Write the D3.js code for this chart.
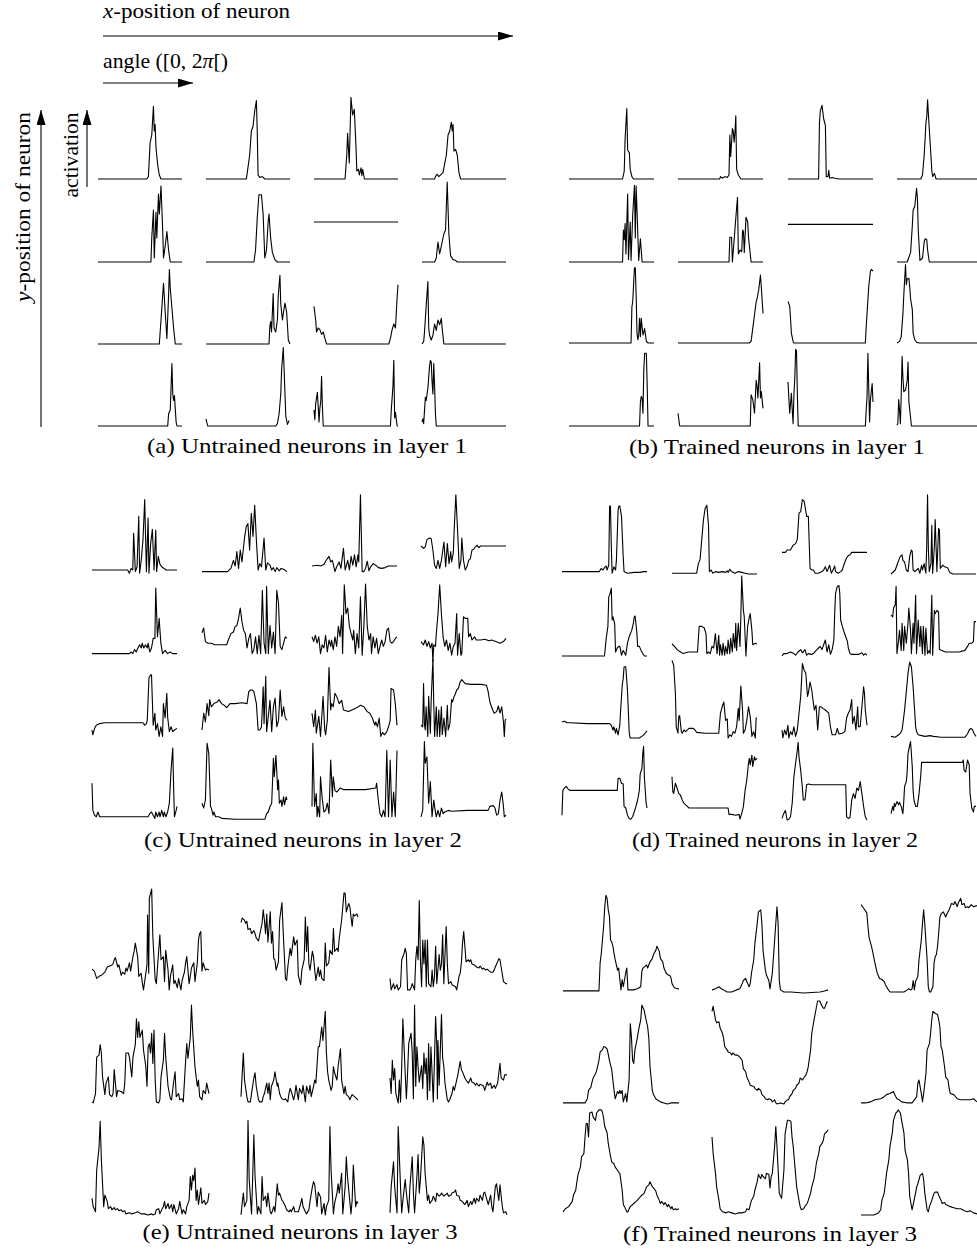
<!DOCTYPE html>
<html>
<head>
<meta charset="utf-8">
<script src="https://cdn.jsdelivr.net/npm/d3@7"></script>
<style>
body { margin: 0; background: #fff; }
svg { display: block; }
text { font-family: "Liberation Serif", "Times New Roman", serif; fill: #000; }
</style>
</head>
<body>
<svg id="fig" width="977" height="1255"></svg>
<script>
// each curve: [angle in % of [0,2pi[, activation in % of plot height]
var untrainedL1 = [
  [[0,0],[58,0],[60,3],[62,45],[64,55],[66,91],[67,60],[68,68],[69,40],[71,18],[73,5],[75,0],[100,0]],
  [[0,0],[48,0],[49,7],[52,30],[54,60],[56,66],[58,85],[60,98],[61,60],[62,5],[64,2],[67,3],[70,0],[100,0]],
  [[0,0],[37,0],[39,30],[40,57],[42,20],[44,102],[46,80],[48,87],[50,40],[51,10],[53,12],[54,5],[56,14],[57,4],[58,12],[60,0],[100,0]],
  [[0,0],[15,0],[16,3],[18,6],[20,3],[25,8],[29,30],[31,55],[33,60],[35,71],[36,60],[37,68],[38,35],[40,37],[42,30],[44,8],[46,0],[100,0]],
  [[0,0],[63,0],[64,30],[66,65],[67,5],[69,62],[70,30],[72,85],[73,60],[75,95],[77,40],[78,5],[80,20],[82,38],[84,15],[86,0],[100,0]],
  [[0,0],[57,0],[59,15],[61,55],[63,84],[66,84],[68,60],[70,5],[72,15],[74,50],[75,60],[77,30],[79,12],[82,3],[85,0],[100,0]],
  [[0,50],[100,50]],
  [[0,0],[15,0],[17,5],[19,25],[21,10],[23,20],[26,35],[28,40],[30,100],[32,35],[34,8],[37,3],[40,2],[42,0],[100,0]],
  [[0,0],[73,0],[75,30],[78,76],[80,40],[82,7],[84,60],[85,93],[86,70],[88,45],[90,20],[92,0],[100,0]],
  [[0,0],[75,0],[76,22],[77,28],[78,15],[80,63],[81,20],[83,15],[85,30],[86,60],[88,86],[89,50],[91,30],[92,38],[94,51],[96,40],[98,5],[100,0]],
  [[0,47],[2,30],[3,15],[5,20],[7,18],[9,12],[11,15],[13,7],[15,0],[89,0],[91,7],[93,18],[95,25],[97,20],[99,59],[100,74]],
  [[0,0],[2,3],[3,15],[5,48],[7,78],[8,20],[9,11],[11,5],[13,11],[15,25],[17,17],[19,30],[21,24],[23,32],[24,20],[26,0],[100,0]],
  [[0,0],[83,0],[84,15],[86,20],[88,78],[89,40],[90,32],[91,38],[93,5],[94,0],[100,0]],
  [[0,9],[2,0],[83,0],[85,3],[87,15],[89,40],[90,70],[92,98],[93,70],[95,12],[97,2],[99,7]],
  [[0,20],[1,8],[2,28],[4,42],[5,25],[6,5],[7,22],[8,30],[9,62],[10,25],[11,0],[91,0],[92,20],[94,50],[95,82],[96,10],[97,17],[98,8],[99,0],[100,0]],
  [[0,5],[1,9],[2,3],[4,36],[5,32],[6,40],[7,47],[9,75],[10,82],[11,80],[12,55],[13,40],[14,78],[15,50],[16,15],[17,0],[100,0]]
];

var trainedL1 = [
  [[0,0],[63,0],[65,10],[66,50],[68,88],[69,36],[71,33],[72,12],[74,3],[76,0],[100,0]],
  [[0,0],[49,0],[50,3],[52,1],[55,3],[58,2],[60,5],[61,55],[62,28],[64,63],[65,60],[66,46],[67,58],[68,79],[69,12],[71,5],[74,0],[100,0]],
  [[0,0],[36,0],[37,70],[38,85],[40,92],[42,75],[44,67],[45,3],[47,3],[48,11],[49,1],[52,2],[55,1],[60,0],[100,0]],
  [[0,0],[28,0],[30,5],[32,30],[33,49],[34,70],[35,78],[36,99],[37,80],[39,45],[41,10],[42,3],[44,7],[46,0],[100,0]],
  [[0,0],[63,0],[64,40],[65,28],[66,48],[67,10],[69,85],[70,3],[72,50],[73,2],[75,60],[77,96],[78,30],[79,95],[80,65],[82,2],[84,29],[86,0],[100,0]],
  [[0,0],[60,0],[61,31],[63,31],[64,0],[66,27],[68,55],[70,81],[71,10],[73,15],[75,13],[76,40],[77,38],[78,12],[80,56],[82,50],[83,30],[86,0],[100,0]],
  [[0,47],[100,47]],
  [[0,0],[12,0],[14,6],[16,12],[18,45],[19,65],[21,70],[23,92],[24,80],[25,40],[27,2],[30,5],[32,25],[33,29],[35,28],[36,15],[38,0],[100,0]],
  [[0,0],[73,0],[74,45],[75,52],[77,94],[78,94],[79,60],[80,12],[81,4],[82,10],[83,31],[84,8],[85,31],[87,10],[89,18],[91,2],[93,0],[100,0]],
  [[0,0],[84,0],[86,2],[89,27],[90,35],[92,52],[93,55],[95,67],[97,85],[98,70],[100,37]],
  [[0,52],[2,46],[3,30],[4,12],[6,2],[7,0],[91,0],[92,20],[93,37],[95,71],[97,90],[98,92],[100,90]],
  [[0,0],[3,2],[5,8],[7,37],[8,60],[10,98],[11,73],[12,80],[14,81],[15,70],[16,55],[18,42],[19,12],[21,4],[23,1],[26,0],[100,0]],
  [[0,0],[83,0],[84,30],[85,37],[86,35],[87,16],[88,70],[89,91],[91,91],[92,50],[93,0],[100,0]],
  [[0,16],[2,0],[85,0],[86,39],[88,33],[89,25],[90,16],[92,57],[93,50],[94,35],[96,79],[97,35],[98,43],[100,22]],
  [[0,55],[2,16],[3,28],[4,41],[5,20],[6,3],[7,40],[8,60],[9,96],[10,94],[11,40],[12,0],[91,0],[92,20],[93,37],[94,91],[96,5],[97,33],[99,53],[100,30]],
  [[0,1],[1,3],[2,33],[3,20],[4,3],[5,40],[6,87],[7,60],[8,43],[10,45],[12,57],[13,80],[14,30],[15,20],[17,0],[100,0]]
];

var untrainedL2 = [
  [[0,5],[42,5],[44,1],[46,7],[48,5],[49,51],[51,3],[53,9],[55,72],[56,1],[58,18],[60,43],[62,93],[64,3],[66,70],[67,1],[69,38],[71,56],[73,5],[75,55],[76,3],[78,22],[80,12],[83,8],[85,7],[87,5],[100,5]],
  [[0,3],[30,3],[34,7],[37,17],[39,10],[41,28],[43,7],[45,30],[47,15],[50,45],[52,59],[54,63],[56,30],[58,76],[60,47],[62,86],[64,42],[66,5],[68,13],[70,9],[73,45],[75,5],[77,14],[80,11],[82,5],[84,8],[86,3],[88,8],[91,4],[93,7],[96,6],[100,3]],
  [[0,10],[6,11],[10,10],[14,12],[16,16],[20,22],[22,15],[24,17],[27,3],[29,9],[32,15],[34,7],[37,32],[39,5],[42,17],[44,5],[46,22],[48,11],[50,24],[52,9],[54,24],[55,15],[57,99],[59,3],[61,3],[63,7],[65,16],[67,4],[69,9],[72,13],[75,11],[78,8],[82,7],[86,8],[90,10],[95,10],[100,10]],
  [[0,35],[3,32],[5,34],[7,43],[10,45],[12,44],[14,30],[16,11],[18,7],[20,17],[22,7],[24,17],[27,40],[29,9],[31,38],[33,13],[35,28],[36,15],[38,26],[39,55],[41,99],[43,55],[45,7],[47,17],[48,45],[50,17],[52,5],[54,9],[56,17],[58,19],[60,30],[62,31],[64,34],[66,36],[68,33],[70,35],[100,35]],
  [[0,3],[44,3],[46,5],[48,3],[50,8],[52,5],[54,10],[56,14],[58,10],[59,16],[61,10],[63,14],[65,10],[66,16],[68,5],[70,10],[72,22],[74,22],[75,85],[77,24],[79,47],[81,16],[83,3],[86,7],[89,3],[92,5],[95,3],[100,3]],
  [[0,29],[2,35],[4,18],[7,16],[11,16],[15,14],[23,14],[29,14],[31,20],[34,28],[37,30],[39,37],[41,38],[43,47],[45,60],[47,43],[49,32],[51,28],[53,10],[55,22],[57,28],[59,3],[61,8],[63,24],[65,3],[67,26],[69,3],[71,82],[73,16],[75,3],[76,87],[78,3],[80,38],[82,10],[84,30],[86,3],[88,82],[90,66],[92,12],[94,8],[96,16],[98,24],[100,22]],
  [[0,24],[2,18],[4,26],[6,16],[8,24],[10,3],[12,14],[14,10],[16,26],[18,5],[20,20],[22,12],[23,20],[25,8],[27,24],[29,12],[31,37],[33,24],[35,51],[36,3],[38,89],[40,53],[42,60],[44,37],[46,28],[48,20],[49,32],[51,3],[53,28],[55,10],[57,74],[59,1],[61,37],[63,90],[65,37],[67,20],[69,28],[70,3],[72,24],[74,10],[76,22],[78,3],[80,12],[82,20],[84,12],[86,18],[88,32],[90,35],[92,18],[94,16],[96,18],[98,22],[100,24]],
  [[0,18],[3,14],[5,20],[7,12],[9,18],[11,10],[13,16],[14,-7],[15,14],[17,12],[18,28],[20,53],[22,89],[24,53],[26,24],[28,12],[30,20],[32,7],[34,16],[36,1],[38,12],[40,16],[42,53],[43,1],[45,28],[47,1],[48,3],[50,49],[52,47],[55,47],[56,24],[58,28],[60,20],[63,24],[65,20],[70,20],[75,21],[80,19],[83,20],[88,18],[93,16],[97,18],[100,22]],
  [[0,10],[1,4],[3,12],[5,16],[9,18],[15,19],[30,19],[50,19],[60,19],[62,16],[64,18],[65,22],[67,75],[69,79],[70,79],[71,47],[72,16],[74,31],[75,10],[77,18],[79,2],[81,14],[83,2],[84,43],[86,25],[88,56],[89,26],[91,8],[93,14],[95,8],[97,10],[100,12]],
  [[0,10],[2,31],[4,20],[6,43],[8,28],[9,48],[11,39],[14,43],[18,45],[20,48],[23,43],[26,41],[29,38],[33,43],[39,43],[47,44],[53,43],[55,58],[57,60],[59,60],[61,58],[64,43],[66,10],[68,10],[70,14],[72,64],[73,18],[75,77],[76,8],[78,27],[80,47],[82,8],[84,39],[86,50],[88,14],[90,22],[92,60],[94,27],[96,39],[98,25],[100,22]],
  [[0,31],[2,14],[4,35],[5,6],[8,27],[10,2],[12,35],[13,52],[15,10],[16,4],[18,22],[20,88],[22,35],[23,43],[25,39],[27,56],[29,52],[32,43],[35,47],[37,35],[43,33],[49,36],[53,38],[57,41],[61,39],[65,33],[68,31],[71,25],[74,16],[75,20],[77,14],[79,25],[81,2],[83,7],[85,4],[88,8],[90,14],[92,22],[93,62],[96,60],[98,43],[100,16]],
  [[0,16],[2,14],[3,68],[4,18],[5,10],[6,39],[8,2],[9,52],[11,6],[12,48],[14,98],[15,43],[16,2],[18,39],[19,2],[21,35],[22,2],[24,39],[25,4],[27,25],[29,2],[31,41],[32,10],[34,18],[36,48],[37,45],[39,52],[40,54],[42,60],[44,62],[46,70],[48,73],[52,68],[59,67],[71,67],[77,66],[79,58],[81,45],[84,36],[86,31],[89,33],[91,40],[93,31],[95,39],[97,20],[98,2],[99,22],[100,24]],
  [[0,46],[1,12],[3,6],[5,4],[7,10],[9,4],[15,4],[30,4],[50,4],[66,4],[68,8],[70,10],[72,6],[74,2],[75,10],[77,4],[79,10],[80,4],[82,12],[84,4],[85,10],[87,4],[89,10],[91,21],[93,62],[95,90],[96,42],[97,4],[99,12],[100,17]],
  [[0,21],[2,15],[4,25],[6,96],[8,83],[10,17],[11,15],[13,6],[14,10],[16,4],[20,4],[23,2],[39,1],[59,1],[74,1],[76,8],[78,10],[80,17],[82,21],[84,77],[85,54],[87,81],[89,38],[90,50],[91,21],[93,25],[94,17],[96,29],[97,19],[99,29],[100,25]],
  [[0,17],[1,96],[3,17],[5,33],[6,4],[7,17],[9,4],[10,54],[12,27],[14,10],[16,12],[18,21],[20,8],[22,75],[24,29],[25,54],[27,37],[29,35],[31,37],[33,40],[37,38],[47,38],[63,38],[75,40],[76,46],[78,25],[80,8],[82,4],[84,12],[86,4],[88,87],[90,4],[92,75],[94,4],[96,35],[98,4],[100,87]],
  [[0,4],[2,12],[4,98],[5,71],[7,79],[9,21],[11,48],[13,4],[15,25],[16,17],[18,4],[20,12],[22,4],[24,15],[26,8],[28,10],[32,12],[36,11],[55,12],[79,12],[81,17],[85,18],[87,15],[89,6],[91,8],[93,25],[95,35],[97,17],[98,4],[100,6]]
];

var trainedL2 = [
  [[0,3],[44,3],[46,7],[48,5],[50,8],[52,10],[53,5],[55,11],[56,85],[57,85],[58,35],[59,1],[61,9],[63,5],[64,17],[66,80],[67,85],[68,85],[70,72],[72,22],[73,3],[77,1],[85,2],[92,2],[96,3],[100,3]],
  [[0,1],[29,1],[31,13],[33,18],[35,43],[37,68],[39,82],[41,86],[43,60],[44,3],[46,5],[48,1],[51,3],[55,2],[59,3],[63,2],[65,4],[66,2],[68,6],[70,3],[74,1],[78,3],[82,2],[86,1],[90,0],[100,0]],
  [[0,27],[4,27],[6,30],[10,30],[13,36],[16,38],[18,43],[20,76],[22,78],[24,93],[26,91],[27,85],[29,72],[31,72],[33,7],[35,5],[37,5],[39,1],[43,1],[47,3],[49,5],[51,9],[53,3],[56,11],[58,1],[60,5],[62,10],[63,3],[66,1],[69,3],[71,5],[72,9],[74,15],[76,20],[78,23],[80,24],[82,27],[86,27],[100,27]],
  [[0,0],[5,5],[7,11],[9,17],[11,22],[13,24],[14,17],[16,15],[18,5],[20,3],[22,22],[24,30],[25,28],[26,5],[28,3],[30,5],[32,7],[34,1],[36,11],[37,5],[39,13],[41,1],[42,34],[43,99],[44,30],[45,3],[47,13],[48,61],[49,1],[51,34],[52,68],[54,3],[55,30],[56,57],[57,55],[58,7],[61,11],[63,9],[66,8],[67,7],[69,2],[73,0],[100,0]],
  [[0,0],[50,0],[52,22],[54,37],[55,74],[56,76],[57,80],[58,85],[59,45],[60,49],[62,40],[63,5],[65,10],[67,12],[68,12],[70,1],[72,7],[73,5],[75,1],[77,16],[79,24],[82,32],[84,41],[85,49],[86,50],[88,30],[89,12],[91,12],[93,7],[95,3],[97,0],[100,0]],
  [[0,15],[3,12],[6,8],[10,5],[13,3],[16,4],[20,5],[25,5],[30,5],[32,37],[35,37],[38,35],[40,28],[41,3],[43,5],[45,3],[47,12],[49,10],[51,28],[53,3],[55,26],[56,1],[57,14],[59,1],[60,16],[62,1],[63,12],[65,3],[66,20],[68,3],[69,22],[71,5],[72,28],[74,10],[75,41],[76,7],[78,41],[80,12],[81,49],[82,100],[84,57],[85,49],[87,0],[88,20],[89,37],[91,49],[92,53],[94,32],[95,14],[98,16],[100,15]],
  [[0,0],[2,3],[6,3],[10,5],[14,3],[16,1],[19,5],[22,8],[24,4],[25,5],[27,8],[29,1],[31,3],[35,2],[37,3],[41,8],[43,10],[45,12],[47,8],[49,14],[51,20],[53,5],[55,14],[57,2],[59,8],[61,20],[62,53],[63,78],[65,87],[67,88],[68,78],[69,45],[71,37],[73,30],[75,24],[77,18],[78,10],[80,3],[82,2],[90,2],[94,4],[96,1],[98,3],[100,1]],
  [[0,51],[2,49],[3,60],[5,64],[6,87],[7,3],[9,20],[10,32],[12,7],[13,41],[15,7],[16,37],[18,16],[20,41],[21,60],[23,32],[24,3],[26,41],[27,16],[29,76],[30,3],[32,45],[34,12],[35,37],[37,3],[38,37],[40,1],[41,35],[43,3],[45,7],[46,3],[48,76],[49,1],[51,57],[52,53],[54,57],[56,55],[57,8],[60,7],[64,5],[71,5],[80,5],[87,7],[90,12],[92,16],[95,16],[97,18],[98,43],[100,43]],
  [[0,20],[3,21],[6,19],[9,19],[30,18],[56,18],[58,16],[60,10],[61,14],[63,6],[64,12],[66,4],[68,16],[69,35],[71,68],[72,74],[73,89],[75,89],[77,60],[78,35],[79,8],[80,0],[85,0],[91,0],[95,3],[97,5],[100,9]],
  [[0,97],[2,91],[4,56],[5,14],[7,6],[8,27],[9,28],[11,8],[12,6],[14,10],[16,8],[20,12],[25,12],[27,10],[29,7],[39,6],[55,6],[57,31],[59,39],[61,45],[63,22],[65,24],[66,0],[68,4],[70,2],[72,8],[74,6],[76,14],[78,37],[79,22],[81,65],[83,35],[84,6],[86,10],[88,22],[90,39],[92,27],[94,2],[96,8],[98,0],[99,25],[100,25]],
  [[0,10],[1,0],[3,10],[5,4],[7,16],[8,0],[10,8],[12,4],[14,14],[16,2],[18,10],[20,31],[22,52],[23,72],[24,93],[26,85],[28,81],[30,52],[31,56],[33,70],[35,60],[37,43],[38,35],[40,41],[42,10],[44,39],[46,39],[48,37],[51,35],[55,31],[57,14],[59,4],[63,4],[65,12],[67,5],[71,6],[74,8],[76,25],[78,31],[80,35],[82,48],[83,18],[85,27],[87,10],[89,39],[90,14],[92,14],[94,39],[96,64],[97,56],[98,35],[100,16]],
  [[0,2],[5,1],[9,4],[11,6],[13,10],[14,18],[16,35],[18,58],[20,81],[22,95],[24,89],[26,64],[28,31],[29,14],[30,8],[32,4],[36,3],[40,2],[46,3],[50,2],[59,1],[75,1],[87,1],[90,5],[92,10],[94,12],[96,10],[98,5],[100,2]],
  [[0,6],[1,37],[3,40],[5,42],[7,39],[9,37],[30,37],[50,37],[65,37],[66,52],[68,52],[70,46],[72,45],[73,17],[75,15],[77,6],[79,2],[81,1],[83,4],[85,10],[87,17],[89,25],[91,37],[92,58],[94,64],[95,83],[96,92],[97,52],[99,21],[100,15]],
  [[0,54],[1,35],[2,33],[4,46],[6,40],[8,33],[10,31],[12,25],[14,21],[16,19],[18,17],[20,15],[27,15],[39,15],[66,15],[67,7],[70,7],[75,6],[79,7],[80,1],[82,8],[84,17],[86,37],[88,50],[90,71],[91,77],[92,69],[94,81],[95,67],[97,79],[98,75],[100,77]],
  [[0,2],[2,8],[4,12],[6,0],[8,1],[10,4],[12,21],[14,54],[16,71],[18,87],[19,97],[20,79],[22,62],[24,40],[25,25],[27,25],[29,44],[31,45],[35,44],[47,44],[75,44],[76,4],[78,2],[80,3],[82,25],[84,33],[86,27],[88,40],[90,37],[92,48],[94,33],[96,17],[98,4],[100,0]],
  [[0,8],[2,17],[3,12],[4,21],[5,17],[7,23],[9,19],[10,22],[12,17],[14,8],[15,23],[16,42],[18,48],[19,60],[20,83],[22,94],[23,98],[25,67],[26,37],[27,25],[29,17],[31,17],[33,33],[35,56],[36,72],[52,72],[71,72],[84,72],[85,75],[86,62],[88,60],[90,75],[92,69],[93,33],[95,15],[97,10],[98,17],[100,17]]
];

var untrainedL3 = [
  [[0,23],[2,21],[4,14],[6,16],[8,17],[11,20],[13,25],[15,26],[17,27],[18,28],[19,32],[20,34],[22,25],[23,27],[25,17],[26,20],[28,18],[29,24],[30,21],[32,29],[33,21],[35,35],[36,40],[37,48],[39,35],[40,16],[42,19],[43,10],[44,3],[46,19],[47,27],[47.5,75],[48.5,19],[49,91],[51,100],[52,54],[54,13],[55,9],[56,25],[58,56],[59,32],[61,35],[62,11],[63,41],[65,22],[66,3],[67,16],[69,27],[70,9],[71,12],[73,5],[74,14],[76,3],[77,12],[79,20],[80,29],[81,35],[83,9],[84,16],[85,24],[87,29],[88,11],[90,29],[91,51],[92,57],[93,59],[94,21],[95,29],[97,22],[98,23],[100,22]],
  [[0,68],[1,72],[3,70],[4,67],[5,69],[6,61],[8,62],[9,57],[11,60],[12,57],[13,53],[15,50],[16,56],[18,67],[19,80],[20,70],[21,57],[22,76],[23,49],[25,78],[26,48],[27,59],[28,33],[29,32],[30,22],[32,30],[33,70],[35,87],[36,60],[38,14],[39,12],[40,25],[42,43],[43,36],[45,54],[46,46],[48,51],[49,17],[51,8],[52,22],[54,32],[55,73],[56,40],[57,64],[58,28],[59,22],[61,40],[62,35],[63,22],[64,12],[66,25],[67,16],[68,22],[69,14],[71,12],[72,48],[73,26],[75,29],[76,41],[78,37],[79,62],[80,40],[82,43],[83,40],[84,53],[86,70],[88,96],[89,96],[90,78],[92,86],[93,83],[95,64],[96,76],[97,74],[99,76],[100,73]],
  [[0,14],[1,3],[3,9],[4,4],[6,8],[7,3],[9,6],[10,32],[12,38],[13,43],[14,38],[15,3],[17,3],[18,5],[19,9],[21,3],[22,32],[23,45],[24,32],[25,89],[26,32],[27,6],[28,51],[29,28],[30,51],[31,6],[32,51],[33,9],[35,6],[36,22],[37,6],[38,16],[39,45],[40,9],[42,37],[43,22],[44,28],[45,56],[46,9],[48,64],[49,28],[50,9],[52,11],[53,8],[56,6],[57,3],[59,16],[60,19],[61,29],[62,48],[63,59],[64,45],[65,30],[67,32],[68,30],[69,32],[70,28],[72,27],[74,25],[76,24],[77,26],[79,23],[80,24],[82,22],[83,23],[85,21],[86,20],[88,20],[89,22],[90,25],[92,30],[93,33],[94,32],[95,25],[97,11],[99,9],[100,9]],
  [[0,3],[1,2],[3,11],[4,46],[6,48],[7,58],[8,50],[9,27],[11,10],[12,21],[14,27],[15,10],[17,8],[18,11],[19,34],[21,8],[22,14],[25,13],[27,11],[28,21],[29,50],[31,50],[32,46],[34,27],[35,46],[37,58],[38,83],[39,65],[40,80],[41,65],[43,72],[44,53],[46,37],[47,18],[48,56],[49,59],[50,50],[51,69],[52,40],[53,72],[54,24],[55,3],[57,2],[58,5],[59,27],[61,43],[62,69],[63,46],[65,18],[67,6],[68,5],[70,24],[71,32],[72,8],[74,11],[75,5],[77,6],[78,3],[80,42],[81,59],[82,45],[84,65],[85,96],[86,72],[88,37],[89,27],[90,18],[91,24],[92,8],[94,5],[95,14],[97,11],[98,21],[100,11]],
  [[0,8],[1,30],[2,50],[3,24],[5,8],[6,3],[8,3],[9,11],[11,26],[12,31],[13,18],[15,5],[16,3],[18,3],[19,8],[20,11],[22,21],[23,11],[24,21],[25,5],[26,18],[28,24],[29,32],[31,18],[31.5,21],[33,11],[34,8],[35,6],[37,5],[38,6],[40,3],[41,11],[42,16],[43,13],[45,5],[46,10],[47,19],[49,5],[50,16],[52,11],[53,19],[55,3],[56,18],[58,11],[59,19],[60,8],[62,18],[63,24],[64,21],[66,56],[67,56],[69,75],[70,62],[72,90],[73,50],[74,32],[75,24],[77,14],[78,18],[79,37],[80,31],[82,24],[83,37],[85,54],[86,24],[88,11],[89,18],[90,10],[92,8],[93,5],[95,10],[97,8],[100,5]],
  [[0,26],[1,11],[2,43],[3,24],[4,35],[5,11],[7,2],[8,24],[9,3],[10,37],[11,83],[13,30],[14,6],[15,30],[16,59],[18,69],[19,50],[20,6],[21,96],[22,18],[23,56],[24,37],[25,22],[27,38],[28,16],[29,50],[30,30],[31,45],[32,5],[33,59],[34,14],[35,56],[37,3],[39,85],[40,56],[40.5,6],[41,62],[42,19],[44,87],[45,45],[46,37],[47,21],[49,5],[50,3],[51,5],[53,11],[54,18],[55,14],[57,24],[58,29],[60,42],[61,34],[63,29],[64,26],[65,24],[67,21],[69,26],[70,22],[72,21],[73,19],[74,21],[76,18],[77,20],[79,19],[80,18],[81,14],[83,22],[84,19],[86,21],[87,16],[89,19],[90,16],[92,21],[94,40],[95,26],[97,24],[98,29],[100,29]],
  [[0,18],[1,10],[3,5],[4,45],[6,67],[7,92],[8,55],[10,10],[11,21],[13,15],[14,8],[16,10],[17,7],[19,9],[20,7],[22,8],[23,6],[25,7],[26,5],[28,6],[29,3],[32,4],[34,3],[37,4],[39,5],[42,3],[45,3],[48,2],[51,3],[52,2],[54,3],[55,7],[57,8],[58,3],[60,8],[61,10],[62,15],[63,8],[65,13],[66,8],[68,12],[69,5],[70,12],[72,3],[74,8],[75,15],[77,3],[78,7],[80,3],[81,10],[83,16],[84,39],[85,26],[86,40],[87,35],[88,47],[89,16],[90,26],[91,12],[93,28],[94,13],[96,16],[97,12],[99,15],[100,23]],
  [[0,2],[1,13],[2,23],[3,10],[5,16],[6,93],[7,36],[9,3],[10,39],[11,79],[12,39],[14,3],[15,10],[17,3],[18,39],[19,16],[21,20],[22,10],[23,23],[25,5],[26,3],[28,10],[29,5],[31,32],[32,21],[33,23],[35,16],[36,15],[38,10],[39,7],[41,5],[42,7],[43,5],[45,10],[46,5],[49,5],[51,13],[52,18],[53,10],[55,5],[56,3],[58,7],[59,15],[61,29],[62,34],[63,31],[65,10],[66,24],[68,19],[69,3],[71,13],[72,2],[73,10],[75,16],[76,87],[77,45],[79,3],[80,13],[82,23],[83,32],[84,23],[86,42],[87,3],[89,29],[90,58],[91,39],[94,3],[95,16],[96,50],[98,10],[99,15],[100,13]],
  [[0,4],[1,29],[3,53],[4,29],[6,4],[7,87],[9,29],[10,4],[11,16],[13,36],[14,23],[16,4],[17,29],[19,58],[20,23],[21,4],[23,39],[24,60],[25,23],[26,36],[28,77],[29,69],[30,42],[32,16],[33,21],[34,13],[36,16],[37,20],[39,15],[40,23],[42,20],[43,21],[44,23],[46,20],[47,21],[49,23],[50,20],[52,21],[53,23],[55,24],[56,26],[57,21],[59,20],[60,16],[62,15],[63,13],[64,12],[66,16],[67,10],[69,15],[70,12],[72,18],[73,13],[74,18],[76,15],[77,21],[79,16],[80,23],[81,24],[83,16],[84,12],[86,21],[87,10],[88,5],[90,29],[91,32],[93,16],[94,31],[96,10],[97,4],[99,5],[100,2]]
];

var trainedL3 = [
  [[0,2],[31,2],[32,29],[33,38],[35,64],[36,83],[37,94],[38,91],[39,80],[40,74],[41,51],[42,49],[43,45],[44,38],[45,32],[47,22],[48,24],[49,13],[50,3],[51,13],[52,6],[54,19],[55,24],[56,3],[58,3],[61,3],[64,4],[67,6],[68,21],[69,24],[72,27],[73,24],[75,30],[77,33],[78,37],[80,41],[81,45],[83,40],[84,33],[86,30],[87,24],[89,19],[91,17],[92,17],[93,15],[94,9],[96,5],[99,4],[100,4]],
  [[0,3],[3,4],[6,6],[8,4],[10,3],[13,1],[17,1],[21,3],[24,4],[26,9],[27,12],[29,14],[30,11],[32,6],[33,9],[34,19],[36,32],[37,48],[39,67],[40,78],[42,80],[43,67],[44,41],[46,22],[47,17],[49,12],[50,4],[52,19],[53,35],[55,67],[56,83],[57,67],[58,12],[59,3],[62,1],[68,1],[79,0],[93,1],[97,2],[100,3]],
  [[0,85],[2,82],[5,77],[6,64],[7,53],[9,45],[10,40],[12,29],[13,24],[14,19],[16,14],[18,13],[20,11],[21,8],[23,4],[25,1],[31,1],[37,1],[40,3],[41,4],[43,3],[44,4],[45,12],[46,3],[47,11],[49,16],[50,32],[52,51],[53,67],[54,80],[55,66],[57,32],[58,6],[59,1],[60,1],[62,6],[63,29],[64,35],[65,37],[66,45],[67,58],[68,73],[69,76],[71,78],[73,73],[74,76],[76,80],[77,83],[78,86],[80,85],[81,88],[83,83],[84,87],[86,91],[87,85],[89,86],[90,82],[92,83],[93,82],[95,85],[97,83],[100,84]],
  [[0,2],[19,2],[21,6],[22,14],[24,17],[25,22],[26,26],[28,30],[29,33],[31,43],[32,51],[34,53],[35,56],[36,56],[38,54],[39,49],[40,43],[42,34],[44,14],[45,6],[47,13],[48,11],[49,14],[50,11],[51,14],[52,3],[54,11],[55,3],[57,24],[58,78],[59,65],[60,43],[61,40],[62,53],[64,64],[65,71],[67,82],[68,96],[70,91],[71,85],[73,75],[74,64],[75,37],[77,14],[78,10],[80,6],[81,5],[84,3],[87,2],[90,1],[93,2],[96,2],[100,2]],
  [[0,90],[1,95],[3,82],[4,79],[6,80],[7,74],[9,69],[10,64],[11,56],[13,53],[14,51],[16,50],[17,48],[18,50],[20,48],[22,48],[24,46],[26,43],[27,35],[29,32],[30,27],[32,22],[33,19],[35,18],[36,18],[37,16],[39,14],[40,16],[42,14],[43,10],[45,8],[46,6],[48,5],[49,6],[51,5],[52,3],[54,5],[55,2],[56,1],[59,2],[62,1],[63,3],[65,5],[66,5],[67,8],[69,11],[70,14],[72,16],[73,19],[75,21],[76,26],[78,24],[79,26],[81,29],[82,32],[83,37],[85,53],[86,69],[88,82],[89,88],[91,100],[93,100],[94,97],[96,93],[97,93],[98,96],[99,99],[100,99]],
  [[0,2],[4,2],[8,3],[12,5],[17,6],[20,8],[22,10],[25,11],[28,13],[29,10],[31,6],[33,5],[35,3],[40,2],[44,2],[46,5],[48,8],[49,21],[50,24],[52,11],[53,3],[54,11],[56,30],[57,53],[59,59],[60,69],[61,82],[62,90],[64,88],[66,87],[67,82],[68,75],[69,56],[70,53],[72,37],[73,27],[75,24],[76,16],[77,11],[80,10],[83,6],[86,5],[89,5],[94,5],[97,6],[99,4],[100,3]],
  [[0,4],[2,7],[5,9],[6,11],[8,14],[9,20],[11,25],[12,33],[13,40],[15,47],[16,57],[18,60],[19,76],[20,89],[21,89],[22,76],[23,99],[25,100],[26,95],[28,92],[29,99],[31,102],[33,102],[34,100],[35,94],[36,86],[38,80],[39,70],[41,57],[42,52],[44,50],[45,47],[47,44],[48,42],[49,41],[51,25],[52,11],[53,9],[55,4],[56,4],[57,7],[58,9],[61,12],[64,15],[67,19],[70,22],[71,25],[72,28],[74,30],[75,33],[77,28],[78,27],[80,24],[81,20],[83,15],[84,12],[85,14],[87,11],[88,13],[90,9],[91,11],[93,7],[94,9],[95,6],[97,7],[98,6],[100,7]],
  [[0,76],[1,60],[3,41],[4,28],[6,15],[7,7],[9,4],[12,3],[14,4],[17,3],[20,2],[23,3],[26,3],[29,4],[30,7],[32,6],[33,11],[34,15],[36,19],[37,25],[39,33],[40,40],[42,36],[43,40],[44,38],[46,36],[47,41],[49,40],[50,27],[51,38],[52,41],[54,67],[55,86],[56,67],[58,22],[59,19],[60,17],[62,44],[63,79],[65,92],[66,92],[68,91],[69,76],[70,67],[72,41],[73,28],[75,15],[76,9],[77,6],[79,7],[80,9],[82,12],[83,15],[85,22],[86,28],[88,36],[89,43],[90,51],[92,60],[93,67],[95,70],[96,73],[97,79],[99,81],[100,83]],
  [[0,1],[5,1],[11,1],[15,3],[17,6],[18,15],[20,22],[21,31],[22,41],[24,54],[25,67],[27,80],[28,92],[30,99],[31,100],[32,102],[34,99],[35,92],[37,80],[38,63],[40,54],[41,41],[42,19],[44,6],[45,11],[47,22],[48,28],[49,31],[51,39],[53,41],[54,35],[55,22],[57,6],[58,4],[59,9],[61,15],[63,22],[64,23],[66,23],[67,20],[69,15],[70,12],[72,13],[73,11],[75,10],[77,9],[80,8],[83,7],[86,7],[89,5],[92,4],[94,5],[97,3],[100,2]]
];

var captions = [
  "(a) Untrained neurons in layer 1", "(b) Trained neurons in layer 1",
  "(c) Untrained neurons in layer 2", "(d) Trained neurons in layer 2",
  "(e) Untrained neurons in layer 3", "(f) Trained neurons in layer 3"
];

// grid layout of each sub-figure (left edges of columns, baselines of rows)
var panels = [
  { curves: untrainedL1, cols: [98, 206, 314, 422], w: 84, rows: [179, 262, 344, 426], h: 80, cap: [307, 453, 320] },
  { curves: trainedL1, cols: [569, 678, 788, 897], w: 85, rows: [179, 262, 343, 426], h: 80, cap: [777, 454, 296] },
  { curves: untrainedL2, cols: [92, 202, 312, 421], w: 85, rows: [574, 656, 738, 820], h: 80, cap: [303, 847, 318] },
  { curves: trainedL2, cols: [562, 672, 782, 891], w: 85, rows: [574, 656, 738, 820], h: 80, cap: [775, 847, 286] },
  { curves: untrainedL3, cols: [92, 241, 390], w: 117, rows: [993, 1105, 1217], h: 104, cap: [300, 1239, 315] },
  { curves: trainedL3, cols: [563, 712, 861], w: 116, rows: [993, 1105, 1216], h: 104, cap: [770, 1241, 294] }
];

var svg = d3.select('#fig');

svg.append('defs').append('marker')
    .attr('id', 'head')
    .attr('markerUnits', 'userSpaceOnUse')
    .attr('markerWidth', 16).attr('markerHeight', 12)
    .attr('refX', 15).attr('refY', 4.5)
    .attr('orient', 'auto')
  .append('path')
    .attr('d', 'M0,0L15,4.5L0,9Z')
    .attr('fill', '#000');

panels.forEach(function(p, pi) {
    var x = d3.scaleLinear().domain([0, 100]).range([0, p.w]);
    var y = d3.scaleLinear().domain([0, 100]).range([0, -p.h]);
    var line = d3.line()
        .x(function(d) { return x(d[0]); })
        .y(function(d) { return y(d[1]); });
    var n = p.cols.length;

    var g = svg.append('g').attr('class', 'panel');
    g.selectAll('path.curve')
        .data(p.curves)
        .enter().append('path')
        .attr('class', 'curve')
        .attr('transform', function(d, i) {
            return 'translate(' + p.cols[i % n] + ',' + p.rows[Math.floor(i / n)] + ')';
        })
        .attr('d', line)
        .attr('fill', 'none')
        .attr('stroke', '#000')
        .attr('stroke-width', 1.1)
        .attr('stroke-linejoin', 'round');

    svg.append('text')
        .attr('x', p.cap[0])
        .attr('y', p.cap[1])
        .attr('text-anchor', 'middle')
        .attr('font-size', 21)
        .attr('textLength', p.cap[2])
        .attr('lengthAdjust', 'spacingAndGlyphs')
        .text(captions[pi]);
});

// axis legend for the whole figure
var xl = svg.append('text').attr('x', 103).attr('y', 18).attr('font-size', 21)
    .attr('textLength', 187).attr('lengthAdjust', 'spacingAndGlyphs');
xl.append('tspan').attr('font-style', 'italic').text('x');
xl.append('tspan').text('-position of neuron');

svg.append('line').attr('x1', 103).attr('y1', 36).attr('x2', 513).attr('y2', 36)
    .attr('stroke', '#000').attr('stroke-width', 1.1).attr('marker-end', 'url(#head)');

var al = svg.append('text').attr('x', 103).attr('y', 68).attr('font-size', 21)
    .attr('textLength', 125).attr('lengthAdjust', 'spacingAndGlyphs');
al.append('tspan').text('angle ([0, 2');
al.append('tspan').attr('font-style', 'italic').text('π');
al.append('tspan').text('[)');

svg.append('line').attr('x1', 103).attr('y1', 83).attr('x2', 193).attr('y2', 83)
    .attr('stroke', '#000').attr('stroke-width', 1.1).attr('marker-end', 'url(#head)');

var yl = svg.append('text').attr('transform', 'translate(30,207) rotate(-90)')
    .attr('text-anchor', 'middle').attr('font-size', 21)
    .attr('textLength', 190).attr('lengthAdjust', 'spacingAndGlyphs');
yl.append('tspan').attr('font-style', 'italic').text('y');
yl.append('tspan').text('-position of neuron');

svg.append('line').attr('x1', 41).attr('y1', 427).attr('x2', 41).attr('y2', 110)
    .attr('stroke', '#000').attr('stroke-width', 1.1).attr('marker-end', 'url(#head)');

svg.append('text').attr('transform', 'translate(78,155) rotate(-90)')
    .attr('text-anchor', 'middle').attr('font-size', 21)
    .attr('textLength', 85).attr('lengthAdjust', 'spacingAndGlyphs')
    .text('activation');

svg.append('line').attr('x1', 87).attr('y1', 187).attr('x2', 87).attr('y2', 110)
    .attr('stroke', '#000').attr('stroke-width', 1.1).attr('marker-end', 'url(#head)');
</script>
</body>
</html>
